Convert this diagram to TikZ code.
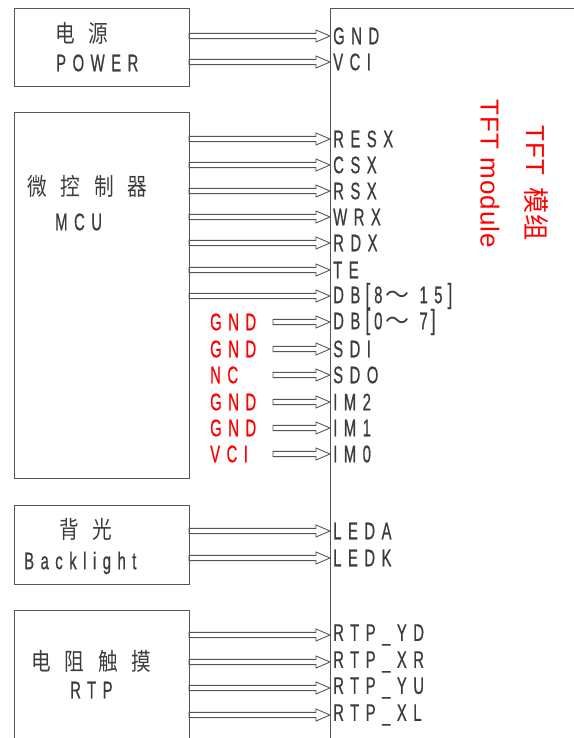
\documentclass[tikz,border=0pt]{standalone}
\usepackage{fontspec}
\setmainfont{Liberation Sans}
\newfontfamily\pinfont[FakeStretch=0.62,LetterSpace=27,FakeBold=0.6]{Liberation Sans}
\newfontfamily\cjkfont[FakeStretch=0.82,LetterSpace=58]{Noto Sans CJK SC}
\newfontfamily\cjkplain[LetterSpace=4]{Noto Sans CJK SC}
\newfontfamily\vfont[LetterSpace=4]{Liberation Sans}
\usetikzlibrary{calc}
\definecolor{txt}{HTML}{3C3C3C}
\definecolor{ln}{HTML}{555555}
\newcommand{\bigbr}[1]{{\fontsize{28}{24}\selectfont #1}}
\tikzset{
  box/.style={draw=ln,line width=1pt},
  pin/.style={anchor=west,inner sep=0pt,text=txt,font=\fontsize{24}{24}\selectfont\pinfont},
  redlab/.style={anchor=west,inner sep=0pt,text=red,font=\fontsize{24}{24}\selectfont\pinfont},
  boxtxt/.style={anchor=west,inner sep=0pt,text=txt,font=\fontsize{24}{24}\selectfont\pinfont},
  boxcjk/.style={anchor=west,inner sep=0pt,text=txt,font=\fontsize{24}{24}\selectfont\cjkfont},
  vtitle/.style={rotate=-90,text=red,font=\fontsize{26}{26}\selectfont\vfont},
  harrow/.style={draw=ln,line width=0.9pt,line join=miter,
    to path={let \p1=(\tikztostart), \p2=(\tikztotarget) in
      (\x1,\y1+2.6pt) -- (\x2-14pt,\y1+2.6pt) -- (\x2-14pt,\y1+6pt) -- (\x2,\y1)
      -- (\x2-14pt,\y1-6pt) -- (\x2-14pt,\y1-2.6pt) -- (\x1,\y1-2.6pt) -- cycle}}
}
\begin{document}
\begin{tikzpicture}[x=1pt,y=-1pt]
\useasboundingbox[fill=white] (0,0) rectangle (573,738);

% blocks
\draw[box] (14,9) rectangle (189,87);
\coordinate (pwr) at (189,48);
\draw[box] (14,113) rectangle (189,478);
\coordinate (mcu) at (189,300);
\draw[box] (14,505) rectangle (189,584);
\coordinate (bl) at (189,545);
\draw[box] (189,740) -- (189,610) -- (14,610) -- (14,740);
\coordinate (rtp) at (189,670);
% module outline
\draw[box] (330,740) -- (330,9) -- (574,9);
\coordinate (sx) at (273,0);

% block texts
\node[boxcjk] at (55,33) {电源};
\node[boxtxt] at (56,63) {POWER};
\node[boxcjk] at (27,186) {微控制器};
\node[boxtxt] at (55,222) {MCU};
\node[boxcjk] at (59,529) {背光};
\node[boxtxt] at (24,563) {Backlight};
\node[boxcjk] at (31,661) {电阻触摸};
\node[boxtxt] at (70,690) {RTP};

% module title
\node[vtitle] at (536,183) {TFT\hspace{12pt}{\cjkplain 模组}};
\node[vtitle] at (490,174) {TFT module};

% pins
\node[pin] (gnd)  at (333,36)  {GND};
\node[pin] (vci)  at (333,62)  {VCI};
\node[pin] (resx) at (333,139) {RESX};
\node[pin] (csx)  at (333,165) {CSX};
\node[pin] (rsx)  at (333,191) {RSX};
\node[pin] (wrx)  at (333,217) {WRX};
\node[pin] (rdx)  at (333,243) {RDX};
\node[pin] (te)   at (333,270) {TE};
\node[pin] (dbh)  at (333,296) {DB\hspace{5pt}\bigbr{[}\hspace{4pt}8\hspace{3pt}{\cjkplain ～}\hspace{10pt}15\hspace{5pt}\bigbr{]}};
\node[pin] (dbl)  at (333,322) {DB\hspace{5pt}\bigbr{[}\hspace{4pt}0\hspace{3pt}{\cjkplain ～}\hspace{10pt}7\hspace{3pt}\bigbr{]}};
\node[pin] (sdi)  at (333,349) {SDI};
\node[pin] (sdo)  at (333,375) {SDO};
\node[pin] (imb)  at (333,402) {IM2};
\node[pin] (ima)  at (333,428) {IM1};
\node[pin] (imo)  at (333,454) {IM0};
\node[pin] (leda) at (333,531) {LEDA};
\node[pin] (ledk) at (333,558) {LEDK};
\node[pin] (yd)   at (333,635) {RTP\_YD};
\node[pin] (xr)   at (333,662) {RTP\_XR};
\node[pin] (yu)   at (333,688) {RTP\_YU};
\node[pin] (xl)   at (333,715) {RTP\_XL};

% red tie labels
\node[redlab] at (210,322) {GND};
\node[redlab] at (210,349) {GND};
\node[redlab] at (210,375) {NC};
\node[redlab] at (210,402) {GND};
\node[redlab] at (210,428) {GND};
\node[redlab] at (210,454) {VCI};

% connectors
\foreach \p in {gnd,vci} \draw[harrow] (pwr |- \p.west) to ([xshift=-3pt]\p.west);
\foreach \p in {resx,csx,rsx,wrx,rdx,te,dbh} \draw[harrow] (mcu |- \p.west) to ([xshift=-3pt]\p.west);
\foreach \p in {dbl,sdi,sdo,imb,ima,imo} \draw[harrow] (sx |- \p.west) to ([xshift=-3pt]\p.west);
\foreach \p in {leda,ledk} \draw[harrow] (bl |- \p.west) to ([xshift=-3pt]\p.west);
\foreach \p in {yd,xr,yu,xl} \draw[harrow] (rtp |- \p.west) to ([xshift=-3pt]\p.west);
\end{tikzpicture}
\end{document}
